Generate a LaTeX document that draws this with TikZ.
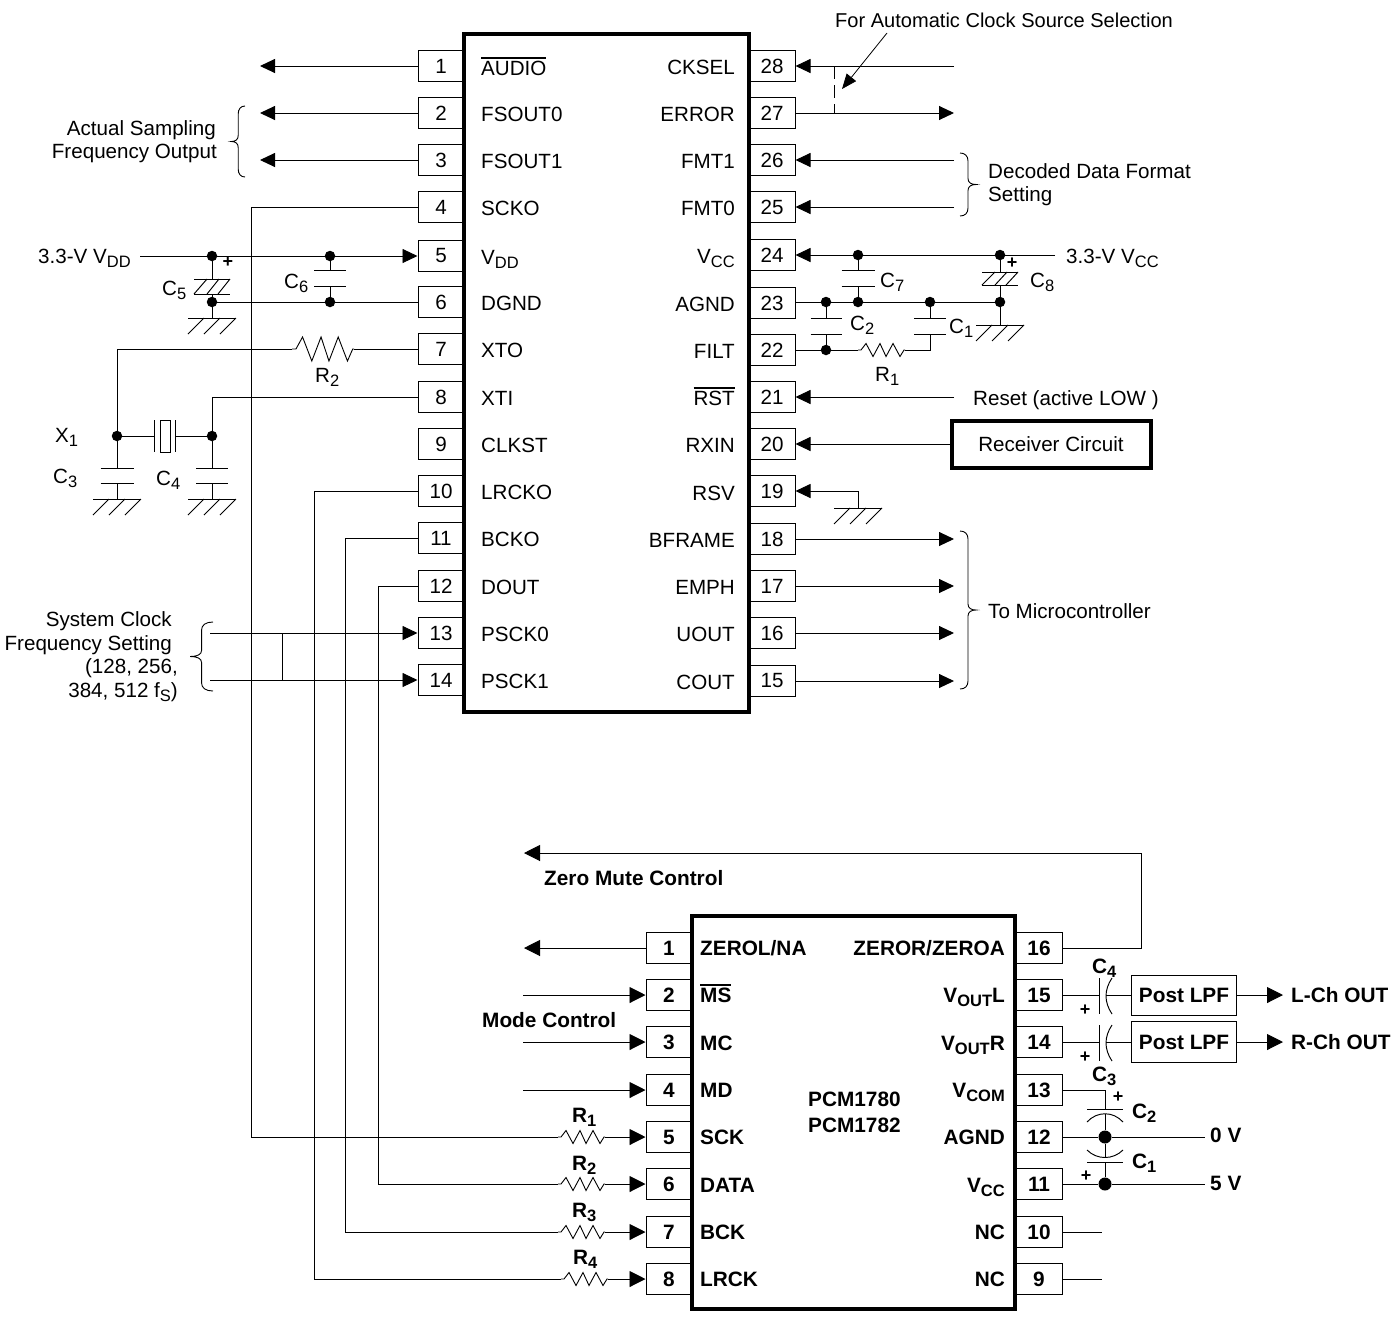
\documentclass[tikz,border=0pt]{standalone}
\usepackage{fontspec}
\setmainfont{Liberation Sans}
\usetikzlibrary{arrows.meta}
\newcommand{\subs}[1]{\raisebox{-4.5pt}{\fontsize{16.5}{16.5}\selectfont #1}}
\newcommand{\ovl}[1]{\leavevmode\rlap{\rule[16.5pt]{\widthof{#1}}{1.3pt}}#1}
\usepackage{calc}
\tikzset{
 every node/.style={inner sep=0pt,font=\fontsize{20.6}{25}\selectfont},
 wire/.style={line width=0.95pt},
 pinbox/.style={draw,line width=1pt,minimum width=46pt,minimum height=31pt},
 chip/.style={draw,line width=4pt,outer sep=0pt,fill=none},
 lw/.style={anchor=base west},
 le/.style={anchor=base east},
 lb/.style={font=\fontsize{20.8}{25}\selectfont\bfseries},
 plus/.style={font=\fontsize{18}{18}\selectfont\bfseries},
 dotn/.style={circle,fill=black,minimum size=10.5pt},
 arr/.style={wire,-{Stealth[length=15pt,width=14pt,inset=0pt]}},
 arrb/.style={wire,-{Stealth[length=16pt,width=16pt,inset=0pt]}},
 pics/gnd/.style={code={\draw[wire] (-24,0)--(24,0);
   \draw[wire] (-24,16)--(-8,0) (-8,16)--(8,0) (8,16)--(24,0);}},
 pics/capp/.style 2 args={code={\draw[wire] (-#1,0)--(#1,0) (-#1,#2)--(#1,#2);}},
 pics/capz/.style={code={\draw[wire] (-18,0)--(18,0) (-18,15)--(18,15);
   \draw[wire] (-18,15)--(-5,0) (-5,15)--(7,0) (6,15)--(18,0);}},
 pics/zig/.style={code={\draw[line width=0.9pt] (0,0)--(3,0)--(8,-6.5)--(15,6.5)--(22,-6.5)--(28,6.5)--(35,-6.5)--(42,6.5)--(46,0)--(47,0);}},
 pics/brc/.style={code={\draw[line width=0.9pt] (0,0) .. controls (5,0) and (8,3) .. (8,8) -- (8,#1/2-6) .. controls (8,#1/2-2) and (11,#1/2) .. (16,#1/2) .. controls (11,#1/2) and (8,#1/2+2) .. (8,#1/2+6) -- (8,#1-8) .. controls (8,#1-3) and (5,#1) .. (0,#1);}},
}
\begin{document}
\begin{tikzpicture}[x=1pt,y=-1pt]
\useasboundingbox (0,0) rectangle (1399,1323);
% ---------- top chip
\node[chip,anchor=north west,minimum width=285pt,minimum height=678pt] (ict) at (464,34) {};
\foreach \n/\y in {1/66,2/113,3/160,4/207,5/256,6/302,7/349,8/397,9/444,10/491,11/538,12/586,13/633,14/680}
  \node[pinbox] (L\n) at (441,\y) {\n};
\foreach \n/\y in {28/66,27/113,26/160,25/207,24/255,23/303,22/350,21/397,20/444,19/491,18/539,17/586,16/633,15/681}
  \node[pinbox] (R\n) at (772,\y) {\n};
\foreach \n/\y/\t in {1/75/{\ovl{AUDIO}},2/121/FSOUT0,3/168/FSOUT1,4/215/SCKO,5/264/{V\subs{DD}},6/310/DGND,7/357/XTO,8/405/XTI,9/452/CLKST,10/499/LRCKO,11/546/BCKO,12/594/DOUT,13/641/PSCK0,14/688/PSCK1}
  \node[lw] (tl\n) at (481,\y) {\t};
\foreach \n/\y/\t in {28/74/CKSEL,27/121/ERROR,26/168/FMT1,25/215/FMT0,24/263/{V\subs{CC}},23/311/AGND,22/358/FILT,21/405/{\ovl{RST}},20/452/RXIN,19/500/RSV,18/547/BFRAME,17/594/EMPH,16/641/UOUT,15/689/COUT}
  \node[le] (tr\n) at (735,\y) {\t};
% ---------- left of top chip
\foreach \n/\x/\y in {c1/260/66,c2/260/113,c3/260/160} \coordinate (\n) at (\x,\y);
\draw[arr] (L1.west) -- (c1);
\draw[arr] (L2.west) -- (c2);
\draw[arr] (L3.west) -- (c3);
\node[le] (ta1) at (216,135) {Actual Sampling};
\node[le] (ta2) at (217,158) {Frequency Output};
\pic[xscale=-0.85] at (245,106) {brc=71};
\node[lw] (vdd) at (38,263) {3.3-V V\subs{DD}};
\coordinate (vddw) at (140,256);
\node[dotn] (d5a) at (212,256) {};
\node[dotn] (d5b) at (330,256) {};
\node[dotn] (d6a) at (212,302) {};
\node[dotn] (d6b) at (330,302) {};
\draw[arr] (vddw) -- (L5.west);
\draw[wire] (d6a) -- (L6.west);
% C5
\coordinate (c5t) at (212,279); \coordinate (c5b) at (212,294); \coordinate (g5) at (212,318);
\pic at (c5t) {capz};
\draw[wire] (d5a) -- (c5t) (c5b) -- (d6a) -- (g5);
\pic at (g5) {gnd};
\node[plus,anchor=center] (p5) at (228,262) {+};
\node[lw] (t5) at (162,295) {C\subs{5}};
% C6
\coordinate (c6t) at (330,270); \coordinate (c6b) at (330,286);
\pic at (c6t) {capp={16}{16}};
\draw[wire] (d5b) -- (c6t) (c6b) -- (d6b);
\node[lw] (t6) at (284,288) {C\subs{6}};
% XTO / XTI
\coordinate (r2a) at (292,349); \coordinate (r2b) at (354,349);
\pic[xscale=1.32,yscale=1.85] at (r2a) {zig};
\node[dotn] (dx1) at (117,436) {};
\node[dotn] (dx2) at (212,436) {};
\draw[wire] (L7.west) -- (r2b) (r2a) -| (dx1);
\draw[wire] (L8.west) -| (dx2);
\node[lw] (tr2) at (315,382) {R\subs{2}};
\node[lw] (tx1) at (55,442) {X\subs{1}};
\coordinate (xa) at (154.5,436); \coordinate (xb) at (175.5,436);
\draw[wire] (154.5,420) -- (154.5,452) (175.5,420) -- (175.5,452);
\draw[wire] (160,420) rectangle (170,452);
\draw[wire] (dx1) -- (xa) (xb) -- (dx2);
% C3, C4
\coordinate (c3t) at (117,468); \coordinate (c3b) at (117,483); \coordinate (g3) at (117,499);
\coordinate (c4t) at (212,468); \coordinate (c4b) at (212,483); \coordinate (g4) at (212,499);
\pic at (c3t) {capp={16.5}{15}}; \pic at (c4t) {capp={16}{15}};
\draw[wire] (dx1) -- (c3t) (c3b) -- (g3) (dx2) -- (c4t) (c4b) -- (g4);
\pic at (g3) {gnd}; \pic at (g4) {gnd};
\node[lw] (tc3) at (53,483) {C\subs{3}};
\node[lw] (tc4) at (156,485) {C\subs{4}};
% PSCK
\coordinate (p13) at (210,633); \coordinate (p14) at (210,680);
\draw[arr] (p13) -- (L13.west);
\draw[arr] (p14) -- (L14.west);
\draw[wire] (282,633) -- (282,680);
\pic[xscale=-1.43] at (213,622) {brc=69};
\node[le] (s1) at (172,626) {System Clock};
\node[le] (s2) at (172,650) {Frequency Setting};
\node[le] (s3) at (178,673) {(128, 256,};
\node[le] (s4) at (178,697) {384, 512 f\subs{S})};
% ---------- right of top chip
\coordinate (e28) at (954,66); \coordinate (e27) at (954,113);
\coordinate (e26) at (954,160); \coordinate (e25) at (954,207);
\draw[arr] (e28) -- (R28.east);
\draw[arr] (R27.east) -- (e27);
\draw[arr] (e26) -- (R26.east);
\draw[arr] (e25) -- (R25.east);
\draw[line width=0.9pt,dash pattern=on 13pt off 6pt] (834,66) -- (834,113);
\node[lw,font=\fontsize{20.05}{25}\selectfont] (auto) at (835,27) {For Automatic Clock Source Selection};
\coordinate (pa) at (887,33); \coordinate (pb) at (842,89);
\draw[line width=0.8pt,-{Stealth[length=15pt,width=12pt,inset=0pt]}] (pa) -- (pb);
\pic at (960,153) {brc=63};
\node[lw] (dd1) at (988,178) {Decoded Data Format};
\node[lw] (dd2) at (988,201) {Setting};
% VCC rail
\coordinate (vccw) at (1055,255);
\node[dotn] (d24a) at (858,255) {};
\node[dotn] (d24b) at (1000,255) {};
\node[dotn] (d23a) at (826,302) {};
\node[dotn] (d23b) at (858,302) {};
\node[dotn] (d23c) at (930,302) {};
\node[dotn] (d23d) at (1000,302) {};
\node[dotn] (d22) at (826,350) {};
\draw[arr] (vccw) -- (R24.east);
\draw[wire] (R23.east|-d23a) -- (d23d);
\node[lw] (vcc) at (1066,263) {3.3-V V\subs{CC}};
\coordinate (c7t) at (858,270); \coordinate (c7b) at (858,286);
\pic at (c7t) {capp={16.5}{16}};
\draw[wire] (d24a) -- (c7t) (c7b) -- (d23b);
\node[lw] (tc7) at (880,287) {C\subs{7}};
\coordinate (c8t) at (1000,272); \coordinate (c8b) at (1000,285); \coordinate (g8) at (1000,325);
\pic[yscale=0.87] at (c8t) {capz};
\draw[wire] (d24b) -- (c8t) (c8b) -- (d23d) -- (g8);
\pic at (g8) {gnd};
\node[plus,anchor=center] (p8) at (1012,263) {+};
\node[lw] (tc8) at (1030,287) {C\subs{8}};
\coordinate (c2t) at (826,318); \coordinate (c2b) at (826,334);
\pic at (c2t) {capp={15.5}{16}};
\draw[wire] (d23a) -- (c2t) (c2b) -- (d22);
\node[lw] (tc2) at (850,330) {C\subs{2}};
\coordinate (c1t) at (930,318); \coordinate (c1b) at (930,334);
\pic at (c1t) {capp={16}{16}};
\coordinate (rr1a) at (858,350); \coordinate (rr1b) at (905,350);
\pic at (rr1a) {zig};
\draw[wire] (R22.east|-d22) -- (rr1a) (rr1b) -| (c1b) (c1t) -- (d23c);
\node[lw] (tc1) at (949,333) {C\subs{1}};
\node[lw] (tr1) at (875,381) {R\subs{1}};
% Reset, receiver
\coordinate (e21) at (954,397);
\draw[arr] (e21) -- (R21.east);
\node[lw] (rst) at (973,405) {Reset (active LOW )};
\node[draw,line width=4pt,minimum width=199pt,minimum height=47pt] (rcv) at (1051,444) {Receiver Circuit};
\draw[arr] (rcv.west) -- (R20.east);
\coordinate (g19) at (858,508); \coordinate (j19) at (858,491);
\draw[arr] (j19) -- (R19.east);
\draw[wire] (j19) -- (g19);
\pic at (g19) {gnd};
\foreach \n/\y in {18/539,17/586,16/633,15/681}{
  \coordinate (e\n) at (954,\y);
  \draw[arr] (R\n.east) -- (e\n);
}
\pic at (960,531) {brc=158};
\node[lw] (mc) at (988,618) {To Microcontroller};
% ---------- bottom chip
\node[chip,anchor=north west,minimum width=323pt,minimum height=393pt] (icb) at (692,916) {};
\foreach \n/\y in {1/948,2/995,3/1042,4/1090,5/1137,6/1184,7/1232,8/1279}
  \node[pinbox,lb] (BL\n) at (669,\y) {\n};
\foreach \n/\y in {16/948,15/995,14/1042,13/1090,12/1137,11/1184,10/1232,9/1279}
  \node[pinbox,lb] (BR\n) at (1039,\y) {\n};
\foreach \n/\y/\t in {1/955/{ZEROL/NA},2/1002/{\ovl{MS}},3/1050/MC,4/1097/MD,5/1144/SCK,6/1192/DATA,7/1239/BCK,8/1286/LRCK}
  \node[lw,lb] (bl\n) at (700,\y) {\t};
\foreach \n/\y/\t in {16/955/{ZEROR/ZEROA},15/1002/{V\subs{OUT}L},14/1050/{V\subs{OUT}R},13/1097/{V\subs{COM}},12/1144/AGND,11/1192/{V\subs{CC}},10/1239/NC,9/1286/NC}
  \node[le,lb] (br\n) at (1005,\y) {\t};
\node[lw,lb] (pcm1) at (808,1106) {PCM1780};
\node[lw,lb] (pcm2) at (808,1132) {PCM1782};
\node[lw,lb] (zm) at (544,885) {Zero Mute Control};
\node[lw,lb] (mode) at (482,1027) {Mode Control};
% zero outputs
\coordinate (zk) at (1141,853); \coordinate (ze) at (524,853); \coordinate (ze1) at (524,948);
\draw[wire] (BR16.east) -| (zk);
\draw[arrb] (zk) -- (ze);
\draw[arrb] (BL1.west) -- (ze1);
% mode pins
\foreach \n/\y in {2/995,3/1042,4/1090}{
  \coordinate (m\n) at (523,\y);
  \draw[arrb] (m\n) -- (BL\n.west);
}
% serial links
\foreach \n/\x in {5/558,6/558,7/558,8/561}{
  \coordinate (ra\n) at (\x,{\n==5?1137:(\n==6?1184:(\n==7?1232:1279))});
  \pic at (ra\n) {zig};
  \coordinate (rb\n) at ([xshift=47pt]ra\n);
  \draw[arrb] (rb\n) -- (BL\n.west);
}
\coordinate (v4) at (251,1137); \coordinate (v12) at (378,1184);
\coordinate (v11) at (345,1232); \coordinate (v10) at (314,1279);
\draw[wire] (L4.west) -| (v4) -- (ra5);
\draw[wire] (L12.west) -| (v12) -- (ra6);
\draw[wire] (L11.west) -| (v11) -- (ra7);
\draw[wire] (L10.west) -| (v10) -- (ra8);
\node[lw,lb] (rl1) at (572,1122) {R\subs{1}};
\node[lw,lb] (rl2) at (572,1170) {R\subs{2}};
\node[lw,lb] (rl3) at (572,1217) {R\subs{3}};
\node[lw,lb] (rl4) at (573,1264) {R\subs{4}};
% outputs
\node[draw,line width=1pt,lb,minimum width=105pt,minimum height=40pt] (lpf1) at (1184,995) {Post LPF};
\node[draw,line width=1pt,lb,minimum width=105pt,minimum height=41pt] (lpf2) at (1184,1042) {Post LPF};
\node[lw,lb] (loutt) at (1291,1002) {L-Ch OUT};
\node[lw,lb] (routt) at (1291,1049) {R-Ch OUT};
\coordinate (ol) at (1283,995); \coordinate (or) at (1283,1042);
\draw[arrb] (lpf1.east) -- (ol);
\draw[arrb] (lpf2.east) -- (or);
\coordinate (ca1) at (1099,995); \coordinate (cb1) at (1106,995);
\coordinate (ca2) at (1099,1042); \coordinate (cb2) at (1106,1042);
\draw[wire] (BR15.east) -- (ca1) (cb1) -- (lpf1.west);
\draw[wire] (BR14.east) -- (ca2) (cb2) -- (lpf2.west);
\draw[wire] (1099,978) -- (1099,1014) (1099,1025) -- (1099,1061);
\draw[wire] (1112,978) .. controls (1104,990) and (1104,1002) .. (1112,1014);
\draw[wire] (1112,1025) .. controls (1104,1037) and (1104,1049) .. (1112,1061);
\node[plus,anchor=center] (pc4) at (1085,1010) {+};
\node[plus,anchor=center] (pc3) at (1085,1057) {+};
\node[lw,lb] (lc4) at (1092,973) {C\subs{4}};
\node[lw,lb] (lc3) at (1092,1081) {C\subs{3}};
% supply caps
\node[dotn,minimum size=13pt] (d12) at (1105,1137) {};
\node[dotn,minimum size=13pt] (d11) at (1105,1184) {};
\coordinate (j13b) at (1105,1090); \coordinate (cp2) at (1105,1109); \coordinate (cp1) at (1105,1162);
\coordinate (e12) at (1205,1137); \coordinate (e11) at (1205,1184);
\coordinate (e10) at (1102,1232); \coordinate (e9) at (1102,1279);
\draw[wire] (BR13.east) -- (j13b) -- (cp2);
\draw[wire] (1087,1109) -- (1123,1109) (1087,1162) -- (1123,1162);
\draw[wire] (1087,1122) .. controls (1097,1111) and (1113,1111) .. (1123,1122);
\draw[wire] (1087,1150) .. controls (1097,1160) and (1113,1160) .. (1123,1150);
\draw[wire] (BR12.east) -- (d12) -- (e12);
\draw[wire] (BR11.east) -- (d11) -- (e11);
\draw[wire] (1105,1114) -- (d12) -- (1105,1157) (cp1) -- (d11);
\draw[wire] (BR10.east) -- (e10);
\draw[wire] (BR9.east) -- (e9);
\node[plus,anchor=center] (pc2) at (1118,1097) {+};
\node[plus,anchor=center] (pc1) at (1086,1176) {+};
\node[lw,lb] (lc2) at (1132,1118) {C\subs{2}};
\node[lw,lb] (lc1) at (1132,1168) {C\subs{1}};
\node[lw,lb] (v0) at (1210,1142) {0 V};
\node[lw,lb] (v5) at (1210,1190) {5 V};
\end{tikzpicture}
\end{document}
